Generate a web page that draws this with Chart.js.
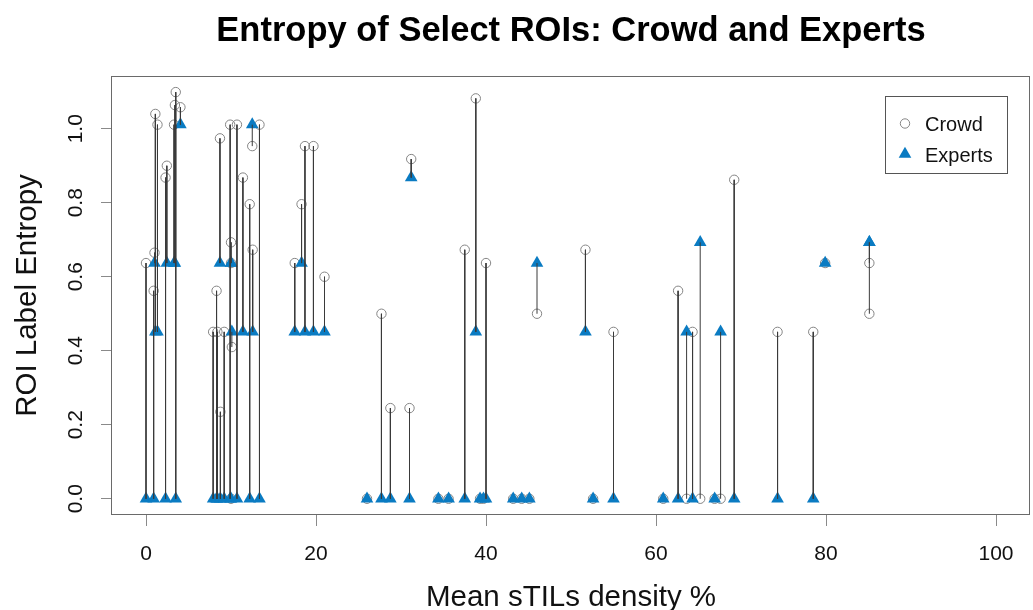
<!DOCTYPE html>
<html><head><meta charset="utf-8">
<script src="https://cdn.jsdelivr.net/npm/chart.js@4/dist/chart.umd.min.js"></script>
<style>html,body{margin:0;padding:0;background:#fff;overflow:hidden}#wrap{width:1033px;height:610px;position:relative}</style>
</head><body><div id="wrap"><canvas id="c" width="1033" height="610"></canvas></div>
<script>
// Mean sTILs density % of each ROI
const roiX = [0.0, 0.9, 1.0, 1.1, 1.35, 2.3, 2.45, 3.3, 3.4, 3.5, 4.05,
  7.9, 8.3, 8.4, 8.7, 8.75, 9.2, 9.9, 10.0, 10.0, 10.1, 10.0, 10.7, 11.4, 12.2, 12.55, 12.5, 13.35,
  17.5, 18.3, 18.7, 19.7, 21.0,
  26.0, 27.7, 28.75, 31.0, 31.2, 34.4, 35.6, 37.5, 38.8, 39.3, 39.7, 40.0, 43.2, 44.2, 45.1, 46.0,
  51.7, 52.6, 55.0, 60.85, 62.6, 63.6, 64.3, 65.2, 66.9, 67.6, 69.2, 74.3, 78.5, 79.9, 85.1, 85.1];
// Crowd label entropy
const crowdEntropy = [0.637, 0.562, 0.665, 1.040, 1.011, 0.868, 0.900, 1.011, 1.064, 1.099, 1.058,
  0.451, 0.562, 0.451, 0.974, 0.235, 0.451, 1.011, 0.693, 0.637, 0.410, 0.0, 1.011, 0.868, 0.796, 0.673, 0.953, 1.011,
  0.637, 0.796, 0.953, 0.953, 0.600,
  0.0, 0.500, 0.245, 0.245, 0.918, 0.0, 0.0, 0.673, 1.082, 0.0, 0.0, 0.637, 0.0, 0.0, 0.0, 0.500,
  0.673, 0.0, 0.451, 0.0, 0.562, 0.0, 0.451, 0.0, 0.0, 0.0, 0.862, 0.451, 0.451, 0.637, 0.500, 0.637];
// Experts label entropy
const expertEntropy = [0.0, 0.0, 0.637, 0.451, 0.451, 0.0, 0.637, 0.637, 0.637, 0.0, 1.011,
  0.0, 0.0, 0.0, 0.637, 0.0, 0.0, 0.0, 0.637, 0.637, 0.451, 0.0, 0.0, 0.451, 0.0, 0.451, 1.011, 0.0,
  0.451, 0.637, 0.451, 0.451, 0.451,
  0.0, 0.0, 0.0, 0.0, 0.868, 0.0, 0.0, 0.0, 0.451, 0.0, 0.0, 0.0, 0.0, 0.0, 0.0, 0.637,
  0.451, 0.0, 0.0, 0.0, 0.0, 0.451, 0.0, 0.693, 0.0, 0.451, 0.0, 0.0, 0.0, 0.637, 0.693, 0.693];
const xTickValues = [0, 20, 40, 60, 80, 100];
const yTickValues = [0, 0.2, 0.4, 0.6, 0.8, 1.0];
const seriesNames = ['Crowd', 'Experts'];
const chartTitle = 'Entropy of Select ROIs: Crowd and Experts';
const xTitle = 'Mean sTILs density %';
const yTitle = 'ROI Label Entropy';

const FONT = '"Liberation Sans", Arial, Helvetica, sans-serif';
const BLUE = '#0a7bc2';
const GREY = '#858585';

const crowdPts = roiX.map((x, i) => ({x: x, y: crowdEntropy[i]}));
const expertPts = roiX.map((x, i) => ({x: x, y: expertEntropy[i]}));
const segPts = [];
roiX.forEach((x, i) => {
  segPts.push({x: x, y: crowdEntropy[i]}, {x: x, y: expertEntropy[i]}, {x: x, y: null});
});

const decor = {
  id: 'decor',
  afterDraw(chart) {
    const ctx = chart.ctx, a = chart.chartArea;
    const xs = chart.scales.x, ys = chart.scales.y;
    ctx.save();
    // box
    ctx.strokeStyle = '#6a6a6a'; ctx.lineWidth = 1;
    ctx.strokeRect(Math.round(a.left) - 0.5, Math.round(a.top) + 0.5, Math.round(a.right - a.left), Math.round(a.bottom - a.top) - 1);
    ctx.fillStyle = '#111';
    // x tick labels
    ctx.font = '21px ' + FONT; ctx.textAlign = 'center'; ctx.textBaseline = 'alphabetic';
    xs.ticks.forEach(t => { ctx.fillText(String(t.value), xs.getPixelForValue(t.value), 559.5); });
    // y tick labels (rotated)
    ys.ticks.forEach(t => {
      ctx.save();
      ctx.translate(82, ys.getPixelForValue(t.value));
      ctx.rotate(-Math.PI / 2);
      ctx.fillText(t.value.toFixed(1), 0, 0);
      ctx.restore();
    });
    // axis titles
    ctx.font = '29.5px ' + FONT;
    ctx.fillText(xTitle, (a.left + a.right) / 2, 606);
    ctx.save();
    ctx.translate(36, (a.top + a.bottom) / 2);
    ctx.rotate(-Math.PI / 2);
    ctx.fillText(yTitle, 0, 0);
    ctx.restore();
    // main title
    ctx.font = 'bold 34.5px ' + FONT;
    ctx.fillStyle = '#000';
    ctx.fillText(chartTitle, (a.left + a.right) / 2, 41);
    // legend
    ctx.strokeStyle = '#555'; ctx.lineWidth = 1;
    ctx.strokeRect(885.5, 96.5, 122, 77);
    ctx.strokeStyle = GREY;
    ctx.beginPath(); ctx.arc(905, 123.5, 4.7, 0, Math.PI * 2); ctx.stroke();
    ctx.fillStyle = BLUE;
    Chart.helpers.drawPoint(ctx, {pointStyle: 'triangle', radius: 7.3, rotation: 0, borderWidth: 0}, 905, 154);
    ctx.fillStyle = '#111';
    ctx.font = '20px ' + FONT; ctx.textAlign = 'left';
    ctx.fillText(seriesNames[0], 925, 131);
    ctx.fillText(seriesNames[1], 925, 162);
    ctx.restore();
  }
};

new Chart(document.getElementById('c'), {
  type: 'scatter',
  data: {
    datasets: [
      {label: 'segments', type: 'line', data: segPts, showLine: true, spanGaps: false,
       borderColor: '#3a3a3a', borderWidth: 1, pointRadius: 0, fill: false, order: 0},
      {label: seriesNames[1], data: expertPts, pointStyle: 'triangle', pointRadius: 7.3,
       backgroundColor: BLUE, borderWidth: 0, order: 1},
      {label: seriesNames[0], data: crowdPts, pointStyle: 'circle', pointRadius: 4.7,
       backgroundColor: 'rgba(0,0,0,0)', borderColor: GREY, borderWidth: 1, order: 2}
    ]
  },
  options: {
    responsive: false, animation: false, events: [],
    layout: {autoPadding: false, padding: {left: 0, top: 76, right: 3, bottom: 0}},
    plugins: {legend: {display: false}, title: {display: false}, tooltip: {enabled: false}},
    scales: {
      x: {type: 'linear', min: -4, max: 104,
          afterFit: s => { s.height = 95; },
          afterBuildTicks: s => { s.ticks = xTickValues.map(v => ({value: v})); },
          ticks: {display: false},
          border: {display: false},
          grid: {display: true, drawOnChartArea: false, drawTicks: true, tickLength: 11, color: '#8a8a8a', lineWidth: 1}},
      y: {type: 'linear', min: -0.0439, max: 1.1425,
          afterFit: s => { s.width = 112; },
          afterBuildTicks: s => { s.ticks = yTickValues.map(v => ({value: v})); },
          ticks: {display: false},
          border: {display: false},
          grid: {display: true, drawOnChartArea: false, drawTicks: true, tickLength: 11, color: '#8a8a8a', lineWidth: 1}}
    }
  },
  plugins: [decor]
});
</script></body></html>
